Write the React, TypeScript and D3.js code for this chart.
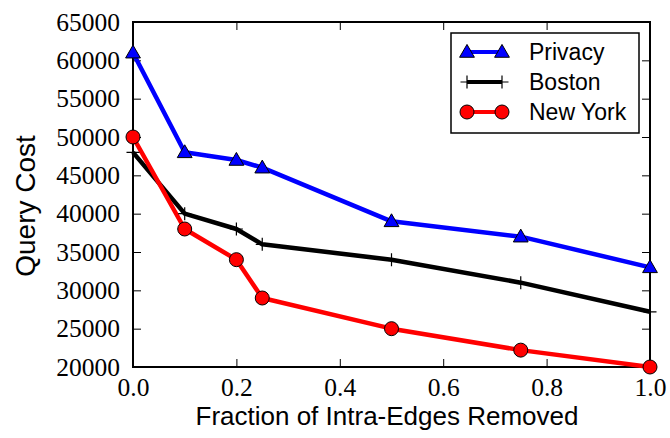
import React, { useEffect, useRef } from 'react';
import * as d3 from 'd3';

const fractions = [0, 0.1, 0.2, 0.25, 0.5, 0.75, 1.0];
const privacy = [61000, 48000, 47000, 46000, 39000, 37000, 33000];
const boston = [48000, 40000, 38000, 36000, 34000, 31000, 27200];
const newYork = [50000, 38000, 34000, 29000, 25000, 22200, 20000];
const xTicks = [0, 0.2, 0.4, 0.6, 0.8, 1.0];
const yTicks = [20000, 25000, 30000, 35000, 40000, 45000, 50000, 55000, 60000, 65000];

function App() {
  const ref = useRef<SVGSVGElement>(null);

  useEffect(() => {
    const svg = d3.select(ref.current);
    svg.selectAll('*').remove();

    const width = 670, height = 438;
    const margin = { top: 22, right: 20, bottom: 71, left: 133 };
    const iw = width - margin.left - margin.right;
    const ih = height - margin.top - margin.bottom;

    const x = d3.scaleLinear().domain([0, 1]).range([0, iw]);
    const y = d3.scaleLinear().domain([20000, 65000]).range([ih, 0]);

    const g = svg.append('g').attr('transform', `translate(${margin.left},${margin.top})`);

    // ticks pointing inward on all four sides
    const tl = 8;
    const tickStyle = (sel: any) => {
      sel.select('.domain').remove();
      sel.selectAll('line').attr('stroke', '#000').attr('stroke-width', 1);
    };
    g.append('g').attr('transform', `translate(0,${ih})`)
      .call(d3.axisBottom(x).tickValues(xTicks).tickSize(-tl).tickPadding(11).tickFormat(d3.format('.1f')))
      .call(tickStyle);
    g.append('g')
      .call(d3.axisTop(x).tickValues(xTicks).tickSize(-tl).tickFormat(() => ''))
      .call(tickStyle);
    g.append('g')
      .call(d3.axisLeft(y).tickValues(yTicks).tickSize(-tl).tickPadding(13).tickFormat(d3.format('d')))
      .call(tickStyle);
    g.append('g').attr('transform', `translate(${iw},0)`)
      .call(d3.axisRight(y).tickValues(yTicks).tickSize(-tl).tickFormat(() => ''))
      .call(tickStyle);

    g.selectAll('.tick text')
      .style('font-family', '"Liberation Serif", serif')
      .style('font-size', '25.5px')
      .attr('fill', '#000');

    // frame
    g.append('rect').attr('width', iw).attr('height', ih)
      .attr('fill', 'none').attr('stroke', '#000').attr('stroke-width', 2);

    const series = [
      { name: 'Privacy', values: privacy, color: '#0000ff', marker: 'triangle' },
      { name: 'Boston', values: boston, color: '#000000', marker: 'plus' },
      { name: 'New York', values: newYork, color: '#ff0000', marker: 'circle' },
    ];

    const line = d3.line<number>().x((_, i) => x(fractions[i])).y(d => y(d));

    const drawMarker = (sel: any, marker: string, color: string) => {
      if (marker === 'triangle') {
        sel.append('path').attr('d', d3.symbol(d3.symbolTriangle, 95)())
          .attr('transform', 'translate(0,1)')
          .attr('fill', color).attr('stroke', '#000').attr('stroke-width', 1);
      } else if (marker === 'circle') {
        sel.append('circle').attr('r', 7)
          .attr('fill', color).attr('stroke', '#000').attr('stroke-width', 1);
      } else {
        sel.append('path').attr('d', 'M-6.5,0H6.5M0,-6.5V6.5')
          .attr('stroke', '#000').attr('stroke-width', 1.2).attr('fill', 'none');
      }
    };

    const plot = g.append('g');
    series.forEach(s => {
      plot.append('path').datum(s.values).attr('d', line)
        .attr('fill', 'none').attr('stroke', s.color).attr('stroke-width', 4.5)
        .attr('stroke-linejoin', 'round');
    });
    series.forEach(s => {
      s.values.forEach((v, i) => {
        const m = plot.append('g').attr('transform', `translate(${x(fractions[i])},${y(v)})`);
        drawMarker(m, s.marker, s.color);
      });
    });

    // legend
    const lg = svg.append('g').attr('transform', 'translate(451,33)');
    lg.append('rect').attr('width', 188).attr('height', 100)
      .attr('fill', '#fff').attr('stroke', '#000').attr('stroke-width', 1.5);
    series.forEach((s, i) => {
      const yy = 19 + i * 30;
      lg.append('line').attr('x1', 16).attr('x2', 51).attr('y1', yy).attr('y2', yy)
        .attr('stroke', s.color).attr('stroke-width', 4);
      [16, 51].forEach(xx => {
        const m = lg.append('g').attr('transform', `translate(${xx},${yy})`);
        drawMarker(m, s.marker, s.color);
      });
      lg.append('text').attr('x', 78).attr('y', yy + 7.5)
        .style('font-family', '"Liberation Sans", Arial, sans-serif')
        .style('font-size', '23px').text(s.name);
    });

    // axis labels
    svg.append('text')
      .attr('x', 387).attr('y', 425)
      .attr('text-anchor', 'middle')
      .style('font-family', '"Liberation Sans", Arial, sans-serif')
      .style('font-size', '26px').text('Fraction of Intra-Edges Removed');
    svg.append('text')
      .attr('transform', `translate(35,206) rotate(-90)`)
      .attr('text-anchor', 'middle')
      .style('font-family', '"Liberation Sans", Arial, sans-serif')
      .style('font-size', '28px').text('Query Cost');
  }, []);

  return (
    <svg ref={ref} width={670} height={438} style={{ position: 'absolute', left: 0, top: 0, background: '#fff' }} />
  );
}

export default App;
